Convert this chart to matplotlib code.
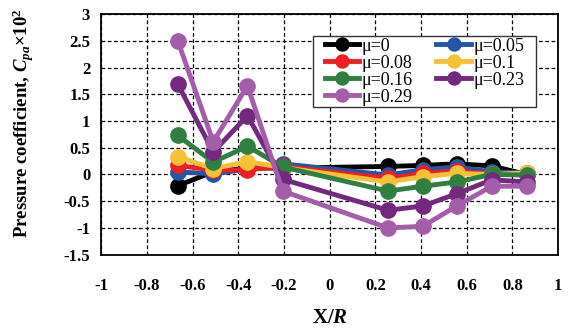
import matplotlib.pyplot as plt
from matplotlib.patches import Rectangle

plt.rcParams["font.family"] = ["Liberation Serif", "DejaVu Serif"]
plt.rcParams["mathtext.fontset"] = "custom"
plt.rcParams["mathtext.rm"] = "Liberation Serif"
plt.rcParams["mathtext.it"] = "Liberation Serif:italic:bold"
plt.rcParams["mathtext.bf"] = "Liberation Serif:bold"
plt.rcParams["axes.unicode_minus"] = False

x_pos = [-0.665, -0.51, -0.36, -0.206, 0.255, 0.407, 0.556, 0.709, 0.862]

cp_mu_0 = [-0.21, 0.05, 0.12, 0.12, 0.15, 0.17, 0.20, 0.16, 0.00]
cp_mu_005 = [0.05, 0.01, 0.10, 0.20, -0.01, 0.09, 0.14, 0.05, 0.03]
cp_mu_008 = [0.17, 0.08, 0.09, 0.15, -0.07, 0.02, 0.07, 0.00, 0.02]
cp_mu_01 = [0.33, 0.11, 0.24, 0.13, -0.14, -0.04, 0.02, 0.00, 0.03]
cp_mu_016 = [0.73, 0.23, 0.53, 0.14, -0.31, -0.22, -0.14, 0.00, -0.01]
cp_mu_023 = [1.69, 0.42, 1.10, -0.09, -0.67, -0.59, -0.36, -0.10, -0.14]
cp_mu_029 = [2.50, 0.61, 1.66, -0.31, -1.00, -0.97, -0.59, -0.22, -0.22]

labels = ["μ=0", "μ=0.05", "μ=0.08", "μ=0.1", "μ=0.16", "μ=0.23", "μ=0.29"]
series = [cp_mu_0, cp_mu_005, cp_mu_008, cp_mu_01, cp_mu_016, cp_mu_023, cp_mu_029]
colors = ["#000000", "#2257a8", "#ed1f24", "#f7c135", "#2f8040", "#74287f", "#a45ea9"]

fig = plt.figure(figsize=(5.69, 3.29), dpi=100)
ax = fig.add_axes([0.178, 0.226, 0.803, 0.731])

handles = []
for vals, lab, col in zip(series, labels, colors):
    h, = ax.plot(x_pos, vals, "-o", color=col, lw=3.5, ms=11, label=lab)
    handles.append(h)

ax.set_xlim(-1, 1)
ax.set_ylim(-1.5, 3)
ax.set_xticks([-1, -0.8, -0.6, -0.4, -0.2, 0, 0.2, 0.4, 0.6, 0.8, 1])
ax.set_xticklabels(["-1", "-0.8", "-0.6", "-0.4", "-0.2", "0", "0.2", "0.4", "0.6", "0.8", "1"])
ax.set_yticks([-1.5, -1, -0.5, 0, 0.5, 1, 1.5, 2, 2.5, 3])
ax.set_yticklabels(["-1.5", "-1", "-0.5", "0", "0.5", "1", "1.5", "2", "2.5", "3"])
ax.grid(True, color="black", linestyle=(0, (3, 2)), lw=0.9)
ax.tick_params(length=0, labelsize=12)
ax.tick_params(axis="x", pad=17)
ax.tick_params(axis="y", pad=8)
for t in ax.get_xticklabels() + ax.get_yticklabels():
    t.set_fontweight("bold")
for sp in ax.spines.values():
    sp.set_linewidth(1.3)

ax.set_xlabel(r"X/$\mathit{R}$", fontsize=15, fontweight="bold", labelpad=10)
ax.set_ylabel(r"Pressure coefficient, $\mathit{C_{pa}}$×10$^{\mathbf{2}}$",
              fontsize=13.5, fontweight="bold")
ax.yaxis.set_label_coords(-0.142, 0.545)

order = [0, 2, 4, 6, 1, 3, 5]
leg = ax.legend([handles[i] for i in order], [labels[i] for i in order],
                ncol=2, loc="upper right", bbox_to_anchor=(0.934, 0.917),
                borderaxespad=0, fontsize=13, frameon=False,
                handlelength=1.9, handletextpad=0.15, columnspacing=1.3,
                labelspacing=0.0, borderpad=0.2, markerscale=0.85)
leg.set_zorder(6)

# white box with a thin dark edge behind the legend, wider than the default frame
fig.canvas.draw()
bb = leg.get_window_extent(fig.canvas.get_renderer())
bb = bb.expanded((bb.width + 16) / bb.width, (bb.height - 4) / bb.height)
box = Rectangle((bb.x0, bb.y0), bb.width, bb.height, transform=None,
                facecolor="white", edgecolor="#333333", lw=1.0, zorder=5)
ax.add_artist(box)

fig.savefig("out.png", dpi=100)
